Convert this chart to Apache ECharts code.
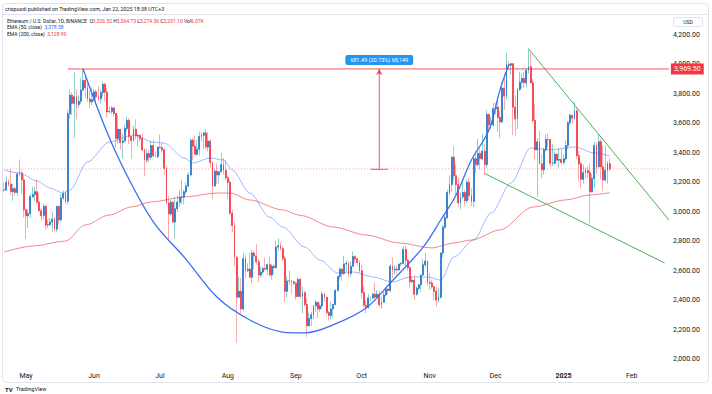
<!DOCTYPE html>
<html>
<head>
<meta charset="utf-8">
<title>Ethereum / U.S. Dollar, 1D, BINANCE</title>
<script src="https://cdn.jsdelivr.net/npm/echarts/dist/echarts.min.js"></script>
<style>html,body{margin:0;padding:0;background:#fff;}#chart{width:712px;height:394px;}</style>
</head>
<body>
<div id="chart"></div>
<script>
// ---------- DATA (daily candles, 2024-04-21 .. 2025-01-22) ----------
const firstDate = '2024-04-21';
const axisEndDate = '2025-02-18';

const open = [
  3148,3147,3201,3186,3137,3156,3131,3256,3263,3216,
  3014,2972,2988,3103,3117,3136,3064,3006,2974,3036,2910,2912,2930,2950,2881,3036,2945,3093,3123,3071,3665,3791,3736,3780,3728,3750,3826,3891,3842,3765,3747,
  3760,3814,3780,3767,3810,3865,3812,3678,3680,3705,3667,3497,3560,3470,3480,3565,3620,3511,3483,3560,3515,3518,3495,3420,3350,3395,3370,3450,3380,3375,
  3438,3435,3420,3295,3060,2985,3065,2930,3020,3065,3100,3100,3135,3175,3250,3485,3445,3390,3425,3510,3520,3535,3440,3480,3335,3175,3275,3250,3270,3320,3280,
  3230,3200,2990,2905,2690,2420,2460,2340,2680,2600,2610,2555,2720,2700,2660,2570,2590,2615,2610,2640,2570,2630,2620,2760,2770,2750,2680,2460,2530,2530,2525,
  2515,2425,2540,2425,2450,2370,2225,2275,2300,2360,2385,2340,2360,2440,2420,2315,2295,2340,2370,2465,2560,2610,2580,2645,2650,2580,2630,2695,2680,2655,
  2600,2450,2365,2350,2415,2415,2440,2420,2440,2370,2385,2435,2475,2465,2630,2605,2610,2605,2645,2650,2745,2670,2620,2525,2535,2440,2480,2505,2570,2640,2665,
  2520,2515,2490,2460,2400,2420,2720,2895,2960,3130,3185,3370,3245,3185,3060,3100,3130,3075,3200,3110,3070,3360,3320,3395,3360,3410,3320,3660,3590,3590,
  3700,3710,3640,3610,3840,3785,4000,3995,4005,3710,3630,3830,3880,3905,3875,3960,3985,3875,3620,3420,3475,3325,3285,3420,3490,3490,3330,3330,3390,3350,3355,
  3335,3360,3450,3605,3655,3635,3685,3380,3325,3220,3265,3280,3265,3135,3225,3450,3305,3475,3305,3215,3280,3326.52
];
const high = [
  3200,3240,3220,3290,3190,3170,3270,3355,3285,3250,
  3020,3015,3125,3170,3170,3220,3130,3020,3055,3050,2946,2957,2996,2963,3040,3042,3120,3145,3140,3690,3830,3813,3950,3830,3790,3905,3972,3925,3885,3825,3845,
  3835,3830,3850,3830,3887,3878,3840,3713,3718,3711,3668,3656,3562,3530,3590,3645,3636,3513,3585,3628,3530,3525,3530,3430,3430,3420,3480,3490,3410,3445,
  3525,3465,3430,3310,3110,3080,3070,3100,3110,3145,3215,3150,3200,3270,3500,3500,3515,3490,3545,3540,3545,3560,3540,3490,3340,3290,3330,3275,3400,3365,3350,
  3245,3220,3015,2930,2700,2555,2550,2720,2705,2650,2720,2740,2735,2780,2680,2625,2630,2690,2650,2695,2645,2645,2800,2820,2795,2765,2700,2560,2600,2535,2530,
  2520,2555,2550,2490,2465,2410,2315,2320,2370,2400,2390,2380,2460,2450,2420,2325,2390,2375,2475,2565,2620,2620,2700,2670,2665,2665,2730,2705,2685,2670,
  2640,2495,2400,2440,2425,2450,2520,2470,2465,2425,2460,2485,2480,2645,2690,2640,2630,2650,2655,2765,2770,2680,2630,2560,2570,2495,2510,2575,2680,2720,2670,
  2585,2540,2495,2490,2480,2725,2910,2975,3150,3250,3380,3445,3320,3230,3130,3220,3150,3220,3230,3160,3380,3410,3495,3430,3530,3460,3690,3665,3645,3740,
  3740,3760,3685,3880,3940,4080,4020,4010,4005,3790,3840,3950,3940,3950,3975,4107,4080,3900,3735,3500,3550,3390,3435,3525,3530,3490,3460,3410,3400,3430,3430,
  3390,3485,3615,3670,3660,3745,3700,3410,3340,3320,3300,3310,3330,3255,3475,3470,3525,3495,3445,3450,3345,3364.73
];
const low = [
  3130,3140,3170,3110,3075,3110,3110,3240,3120,2960,
  2815,2890,2955,3090,3070,3050,3000,2935,2950,2878,2889,2904,2862,2865,2860,2915,2930,3080,3053,3050,3630,3655,3500,3628,3705,3730,3820,3770,3745,3705,3725,
  3750,3752,3755,3730,3780,3750,3640,3670,3663,3647,3435,3465,3420,3360,3475,3545,3460,3360,3478,3490,3445,3475,3410,3240,3330,3335,3355,3370,3370,3360,
  3430,3400,3250,3050,2810,2970,2925,2820,3000,3030,3050,3050,3120,3165,3240,3350,3385,3375,3380,3480,3425,3425,3410,3300,3085,3170,3190,3190,3270,3250,3215,
  3085,2980,2860,2630,2110,2420,2310,2325,2550,2590,2550,2515,2610,2640,2520,2550,2580,2605,2570,2560,2540,2580,2615,2735,2735,2665,2390,2420,2505,2440,2500,
  2400,2425,2410,2310,2355,2150,2225,2225,2270,2320,2280,2320,2340,2390,2300,2260,2270,2280,2365,2460,2540,2530,2570,2590,2555,2555,2630,2650,2640,2585,
  2410,2350,2310,2340,2390,2405,2410,2410,2350,2340,2380,2425,2440,2455,2550,2575,2580,2600,2630,2640,2630,2600,2485,2515,2400,2430,2470,2460,2565,2625,2500,
  2470,2475,2400,2355,2385,2410,2690,2880,2950,3110,3135,3210,3115,3035,3015,3085,3040,3055,3080,3040,3030,3260,3305,3285,3350,3250,3300,3545,3560,3580,
  3660,3540,3500,3600,3690,3760,3960,3930,3520,3515,3560,3820,3840,3840,3845,3935,3870,3600,3360,3100,3325,3225,3250,3410,3440,3305,3310,3320,3350,3300,3320,
  3320,3350,3425,3590,3600,3625,3360,3210,3160,3190,3230,3230,2920,3130,3160,3260,3305,3220,3140,3205,3190,3274.36
];
const close = [
  3147,3201,3186,3137,3156,3131,3256,3263,3216,3014,
  2972,2988,3103,3117,3136,3064,3006,2974,3036,2910,2912,2930,2950,2881,3036,2945,3093,3123,3071,3665,3791,3736,3780,3728,3750,3826,3891,3842,3765,3747,3760,
  3814,3780,3767,3810,3865,3812,3678,3680,3705,3667,3497,3560,3470,3480,3565,3620,3511,3483,3560,3515,3518,3495,3420,3350,3395,3370,3450,3380,3375,3438,
  3435,3420,3295,3060,2985,3065,2930,3020,3065,3100,3100,3135,3175,3250,3485,3445,3390,3425,3510,3520,3535,3440,3480,3335,3175,3275,3250,3270,3320,3280,3230,
  3200,2990,2905,2690,2420,2460,2340,2680,2600,2610,2555,2720,2700,2660,2570,2590,2615,2610,2640,2570,2630,2620,2760,2770,2750,2680,2460,2530,2530,2525,2515,
  2425,2540,2425,2450,2370,2225,2275,2300,2360,2385,2340,2360,2440,2420,2315,2295,2340,2370,2465,2560,2610,2580,2645,2650,2580,2630,2695,2680,2655,2600,
  2450,2365,2350,2415,2415,2440,2420,2440,2370,2385,2435,2475,2465,2630,2605,2610,2605,2645,2650,2745,2670,2620,2525,2535,2440,2480,2505,2570,2640,2665,2520,
  2515,2490,2460,2400,2420,2720,2895,2960,3130,3185,3370,3245,3185,3060,3100,3130,3075,3200,3110,3070,3360,3320,3395,3360,3410,3320,3660,3590,3590,3700,
  3710,3640,3610,3840,3785,4000,3995,4005,3710,3630,3830,3880,3905,3875,3960,3985,3875,3620,3420,3475,3325,3285,3420,3490,3490,3330,3330,3390,3350,3355,3335,
  3360,3450,3605,3655,3635,3685,3380,3325,3220,3265,3280,3265,3135,3225,3450,3305,3475,3305,3215,3280,3330,3291.10
];

// EMA readings
const ema50Dates = ['2024-04-21','2024-04-28','2024-05-06','2024-05-12','2024-05-18','2024-05-21','2024-05-29','2024-06-08','2024-06-19','2024-06-28','2024-07-03','2024-07-12','2024-07-16','2024-07-24','2024-07-30','2024-08-03','2024-08-11','2024-08-20','2024-08-26','2024-09-05','2024-09-12','2024-09-20','2024-09-27','2024-10-06','2024-10-15','2024-10-23','2024-10-31','2024-11-06','2024-11-12','2024-11-21','2024-11-29','2024-12-08','2024-12-17','2024-12-26','2025-01-06','2025-01-15','2025-01-22'];
const ema50 = [3283,3263,3209,3161,3127,3148,3338,3473,3521,3473,3466,3365,3331,3365,3351,3283,3127,2964,2896,2760,2672,2584,2591,2557,2523,2557,2557,2536,2693,2808,2991,3195,3433,3420,3440,3399,3378.58];
const ema200Dates = ['2024-04-21','2024-05-04','2024-05-19','2024-05-28','2024-06-08','2024-06-18','2024-06-27','2024-07-12','2024-07-27','2024-08-02','2024-08-11','2024-08-26','2024-09-03','2024-09-18','2024-10-03','2024-10-18','2024-11-02','2024-11-12','2024-11-20','2024-12-03','2024-12-18','2025-01-02','2025-01-13','2025-01-22'];
const ema200 = [2726,2767,2801,2910,2978,3032,3066,3100,3127,3127,3080,3012,2975,2896,2842,2788,2754,2788,2808,2876,3032,3080,3114,3128.99];

// Drawings (date, price)
const cupDates = ['2024-05-27','2024-06-08','2024-06-19','2024-06-29','2024-07-12','2024-07-27','2024-08-11','2024-08-26','2024-09-05','2024-09-19','2024-10-03','2024-10-14','2024-10-29','2024-11-06','2024-11-13','2024-11-20','2024-11-28','2024-12-03','2024-12-07'];
const cupPrices = [3969.5,3501,3161,2910,2693,2421,2265,2183,2177,2238,2346,2516,2760,2944,3114,3351,3555,3827,3996];
const wedgeUpperDates = ['2024-12-16','2025-02-18'];
const wedgeUpperPrices = [4107,2944];
const wedgeLowerDates = ['2024-11-26','2025-02-16'];
const wedgeLowerPrices = [3260,2652];
const levelDates = ['2024-05-20', axisEndDate];
const levelPrice = 3969.5;
const levelLabel = '3,969.50';
const measureDate = '2024-10-09';
const measureTickDates = ['2024-10-05','2024-10-13'];
const measureFrom = 3288.01;
const measureText = '681.49 (20.73%) 68,149';
const lastPrice = 3291.10;

// Tick labels
const tickDates = ['2024-05-01','2024-06-01','2024-07-01','2024-08-01','2024-09-01','2024-10-01','2024-11-01','2024-12-01','2025-01-01','2025-02-01'];
const tickLabels = ['May','Jun','Jul','Aug','Sep','Oct','Nov','Dec','2025','Feb'];
const yMin = 2000, yMax = 4200, yStep = 200;

// ---------- BUILD ----------
const FONT = 'Roboto, "Noto Sans", sans-serif';
const dates = [];
for (let d = new Date(firstDate + 'T00:00:00Z'); d <= new Date(axisEndDate + 'T00:00:00Z'); d.setUTCDate(d.getUTCDate() + 1)) {
  dates.push(d.toISOString().slice(0, 10));
}
const wickData = close.map((c, i) => [open[i], c, low[i], high[i]]);
const bodyData = close.map((c, i) => [open[i], c, Math.min(open[i], c), Math.max(open[i], c)]);
const pairs = (ds, vs) => ds.map((d, i) => [d, vs[i]]);

const UP = '#2a6fdb', DN = '#f23645';
const UP_WICK = 'rgba(8,153,129,0.45)', DN_WICK = 'rgba(242,54,69,0.42)';
const RED_LINE = 'rgba(242,54,69,0.85)';
const RED_DOT = 'rgba(242,54,69,0.45)';

const plainLine = (name, data, color, extra) => Object.assign({
  name, type: 'line', data, symbol: 'none', silent: true, animation: false,
  color, itemStyle: { color }, lineStyle: { color, width: 1 }, z: 4
}, extra || {});

const chart = echarts.init(document.getElementById('chart'), null, { renderer: 'svg' });
chart.setOption({
  animation: false,
  backgroundColor: '#ffffff',
  grid: { left: 3, right: 42, top: 35, bottom: 35, containLabel: false },
  xAxis: {
    type: 'category', data: dates, boundaryGap: true,
    axisLine: { show: false }, axisTick: { show: false }, splitLine: { show: false },
    axisLabel: {
      interval: (i, v) => tickDates.indexOf(v) >= 0,
      formatter: v => { const k = tickDates.indexOf(v); if (k < 0) return ''; return tickLabels[k] === '2025' ? '{b|2025}' : tickLabels[k]; },
      rich: { b: { fontWeight: 'bold', fontSize: 7, color: '#131722', fontFamily: FONT } },
      fontSize: 7, color: '#131722', margin: 13, fontFamily: FONT
    }
  },
  yAxis: {
    type: 'value', position: 'right', min: yMin, max: yMax, interval: yStep,
    axisLine: { show: false }, axisTick: { show: false }, splitLine: { show: false },
    axisLabel: { fontSize: 7, color: '#131722', margin: 3, fontFamily: FONT,
      formatter: v => v.toLocaleString('en-US', { minimumFractionDigits: 2, maximumFractionDigits: 2 }) }
  },
  series: [
    plainLine('price line', [[dates[0], lastPrice], [axisEndDate, lastPrice]], RED_DOT,
      { lineStyle: { color: RED_DOT, width: 1, type: [1, 2] }, z: 1 }),
    { name: 'EMA 200', type: 'line', data: pairs(ema200Dates, ema200), smooth: 0.3, smoothMonotone: 'x', symbol: 'none', silent: true,
      lineStyle: { color: 'rgba(242,54,69,0.6)', width: 1 }, z: 1 },
    { name: 'EMA 50', type: 'line', data: pairs(ema50Dates, ema50), smooth: 0.3, smoothMonotone: 'x', symbol: 'none', silent: true,
      lineStyle: { color: 'rgba(41,98,255,0.45)', width: 1 }, z: 1 },
    { name: 'wicks', type: 'candlestick', data: wickData, barWidth: '62%', silent: true,
      itemStyle: { color: UP_WICK, color0: DN_WICK, borderColor: UP_WICK, borderColor0: DN_WICK, borderWidth: 1 }, z: 2 },
    { name: 'ETHUSD', type: 'candlestick', data: bodyData, barWidth: '62%', silent: true,
      itemStyle: { color: UP, color0: DN, borderColor: UP, borderColor0: DN, borderWidth: 0.5 }, z: 3 },
    plainLine('level', pairs(levelDates, [levelPrice, levelPrice]), RED_LINE, {
      z: 5,
      endLabel: { show: true, formatter: levelLabel, backgroundColor: '#f23645', color: '#fff', fontSize: 7, fontFamily: FONT,
        padding: [2, 3, 2, 3], distance: 2 }
    }),
    plainLine('measure', [
        { value: [measureDate, measureFrom], symbol: 'none', label: { show: false } },
        { value: [measureDate, levelPrice],
          label: { show: true, position: 'top', distance: 4, formatter: measureText, backgroundColor: '#2196f3', color: '#fff',
            fontSize: 5.5, fontFamily: FONT, padding: [2, 5, 2, 5], borderRadius: 2 } }
      ], RED_LINE, { symbol: 'arrow', symbolSize: [5, 6], showSymbol: true, showAllSymbol: true, z: 5 }),
    plainLine('measure base', pairs(measureTickDates, [measureFrom, measureFrom]), RED_LINE, { z: 5 }),
    { name: 'cup', type: 'line', data: pairs(cupDates, cupPrices), smooth: 0.35, symbol: 'none', silent: true,
      lineStyle: { color: '#3d6ef2', width: 1.3 }, z: 4 },
    plainLine('wedge upper', pairs(wedgeUpperDates, wedgeUpperPrices), '#4caf50'),
    plainLine('wedge lower', pairs(wedgeLowerDates, wedgeLowerPrices), '#4caf50')
  ],
  graphic: [
    { type: 'rect', shape: { x: 2.5, y: 3.5, width: 706, height: 379, r: 4 }, style: { fill: 'none', stroke: '#e0e3eb', lineWidth: 1 }, silent: true, z: 0 },
    { type: 'line', shape: { x1: 2.5, y1: 14.5, x2: 708.5, y2: 14.5 }, style: { stroke: '#e0e3eb', lineWidth: 1 }, silent: true },
    { type: 'text', x: 5, y: 9, silent: true,
      style: { text: 'crispusdi published on TradingView.com, Jan 22, 2025 18:38 UTC+3', fill: '#131722', fontSize: 5.3, fontFamily: FONT, verticalAlign: 'middle' } },
    { type: 'text', x: 7, y: 20.5, silent: true,
      style: { text: '{d|Ethereum / U.S. Dollar, 1D, BINANCE}  {d|O}{r|3,326.52} {d|H}{r|3,364.73} {d|L}{r|3,274.36} {d|C}{r|3,291.10} {d|Vol}{r|6.07K}',
        fontSize: 5, fontFamily: FONT, verticalAlign: 'middle',
        rich: { d: { fill: '#131722', fontSize: 5, fontFamily: FONT }, r: { fill: '#f23645', fontSize: 5, fontFamily: FONT } } } },
    { type: 'text', x: 7, y: 27.3, silent: true,
      style: { text: '{d|EMA (50, close)}  {b|3,378.58}', fontSize: 5, fontFamily: FONT, verticalAlign: 'middle',
        rich: { d: { fill: '#131722', fontSize: 5, fontFamily: FONT }, b: { fill: '#2962ff', fontSize: 5, fontFamily: FONT } } } },
    { type: 'text', x: 7, y: 34, silent: true,
      style: { text: '{d|EMA (200, close)}  {r|3,128.99}', fontSize: 5, fontFamily: FONT, verticalAlign: 'middle',
        rich: { d: { fill: '#131722', fontSize: 5, fontFamily: FONT }, r: { fill: '#f23645', fontSize: 5, fontFamily: FONT } } } },
    { type: 'rect', shape: { x: 673.5, y: 17.5, width: 29, height: 9, r: 2 }, style: { fill: '#fff', stroke: '#e0e3eb', lineWidth: 1 }, silent: true },
    { type: 'text', x: 688, y: 22, silent: true,
      style: { text: 'USD', fill: '#131722', fontSize: 5, fontFamily: FONT, align: 'center', verticalAlign: 'middle' } },
    { type: 'text', x: 5, y: 389, silent: true,
      style: { text: '{l|TV} {t|TradingView}', verticalAlign: 'middle',
        rich: { l: { fill: '#131722', fontSize: 6, fontWeight: 'bold', fontFamily: FONT }, t: { fill: '#131722', fontSize: 5.5, fontFamily: FONT } } } }
  ]
});
</script>
</body>
</html>
